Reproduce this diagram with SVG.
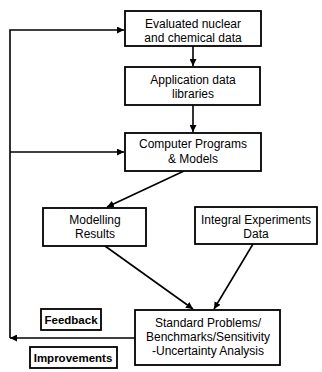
<svg xmlns="http://www.w3.org/2000/svg" width="322" height="372" viewBox="0 0 322 372">
<style>
.box{fill:#fff;stroke:#000;stroke-width:1.8}
.t{font-family:"Liberation Sans",Arial,sans-serif;font-size:12px;fill:#000;text-anchor:middle}
.b{font-weight:bold;font-size:11.5px}
.c{fill:none;stroke:#000;stroke-width:1.6}
</style>
<defs>
<marker id="ah" viewBox="0 0 10 10" refX="10" refY="5" markerWidth="7" markerHeight="7" markerUnits="userSpaceOnUse" orient="auto">
<path d="M0,0 L10,5 L0,10 z" fill="#000"/>
</marker>
</defs>
<rect width="322" height="372" fill="#fff"/>
<g id="connectors">
<path class="c" d="M135,338 L10,338" marker-end="url(#ah)"/>
<path class="c" d="M10,338 L10,30 L124,30" marker-end="url(#ah)"/>
<path class="c" d="M10,152 L124,152" marker-end="url(#ah)"/>
<path class="c" d="M193,46 L193,66" marker-end="url(#ah)"/>
<path class="c" d="M193,105 L193,132" marker-end="url(#ah)"/>
<path class="c" d="M184,171 L107,207" marker-end="url(#ah)"/>
<path class="c" d="M105,246 L193,309" marker-end="url(#ah)"/>
<path class="c" d="M253,244 L214,309" marker-end="url(#ah)"/>
</g>
<g id="n1"><rect class="box" x="125" y="11" width="136" height="35"/><text class="t" x="193" y="28">Evaluated nuclear</text><text class="t" x="193" y="42">and chemical data</text></g>
<g id="n2"><rect class="box" x="125" y="67" width="135" height="38"/><text class="t" x="193" y="84">Application data</text><text class="t" x="193" y="98">libraries</text></g>
<g id="n3"><rect class="box" x="125" y="133" width="136" height="38"/><text class="t" x="193" y="148">Computer Programs</text><text class="t" x="193" y="163">&amp; Models</text></g>
<g id="n4"><rect class="box" x="43" y="208" width="103" height="38"/><text class="t" x="95" y="224">Modelling</text><text class="t" x="95" y="238">Results</text></g>
<g id="n5"><rect class="box" x="195" y="207" width="122" height="37"/><text class="t" x="256" y="224">Integral Experiments</text><text class="t" x="256" y="238">Data</text></g>
<g id="n6"><rect class="box" x="135" y="310" width="145" height="55"/><text class="t" x="208" y="327">Standard Problems/</text><text class="t" x="208" y="341">Benchmarks/Sensitivity</text><text class="t" x="208" y="355">-Uncertainty Analysis</text></g>
<g id="n7"><rect class="box" x="41" y="309" width="60" height="21"/><text class="t b" x="71" y="324">Feedback</text></g>
<g id="n8"><rect class="box" x="30" y="347" width="87" height="21"/><text class="t b" x="73" y="362">Improvements</text></g>
</svg>
